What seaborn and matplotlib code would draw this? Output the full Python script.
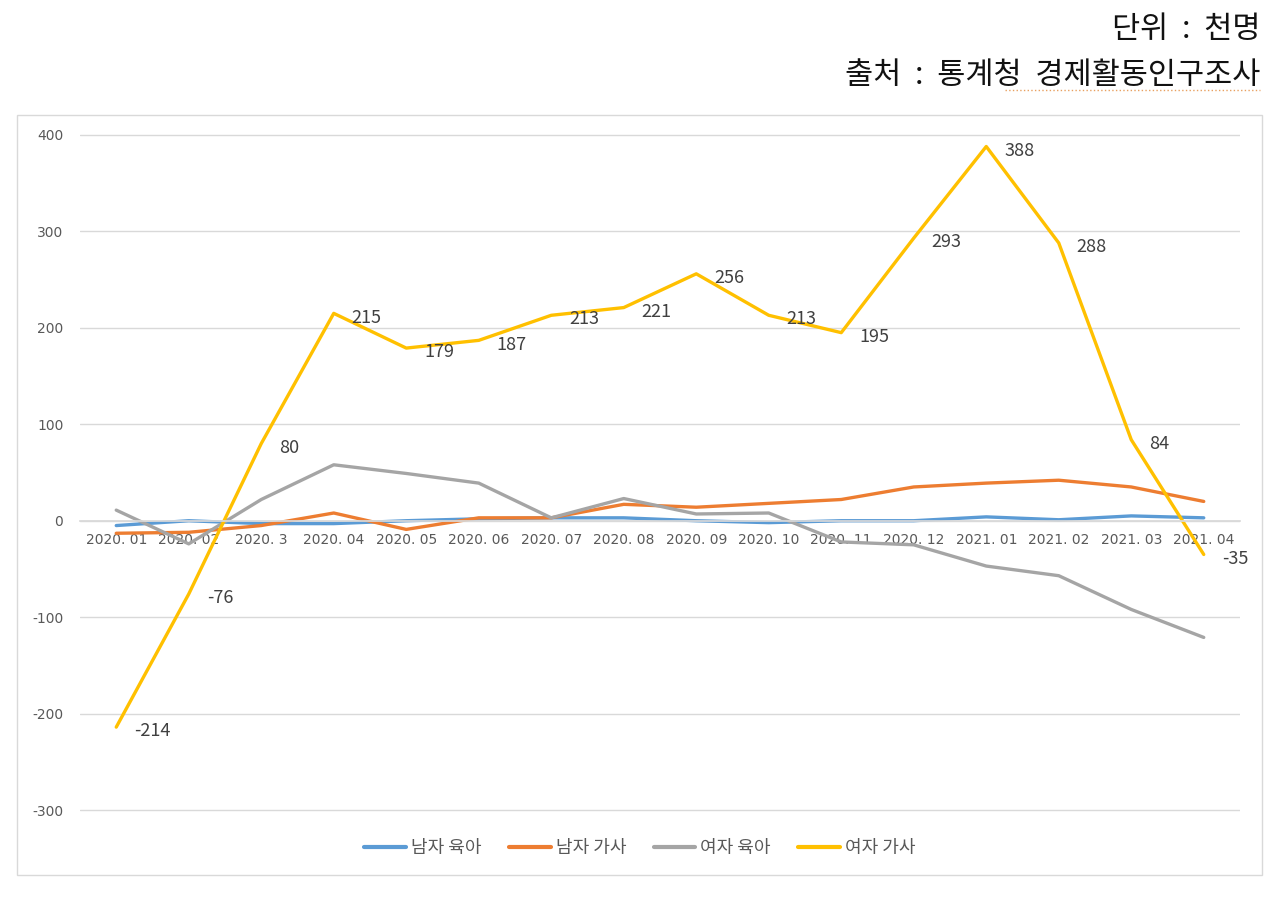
import pandas as pd
import numpy as np
import matplotlib.pyplot as plt
from matplotlib.patches import Rectangle
import seaborn as sns

# categories (months)
months = ['2020. 01', '2020. 02', '2020. 3', '2020. 04', '2020. 05', '2020. 06',
          '2020. 07', '2020. 08', '2020. 09', '2020. 10', '2020. 11', '2020. 12',
          '2021. 01', '2021. 02', '2021. 03', '2021. 04']

# series values (천명, 전년동월대비)
male_childcare = [-5, 0, -3, -3, 0, 2, 3, 3, 0, -2, 0, 0, 4, 1, 5, 3]
male_housework = [-13, -12, -5, 8, -9, 3, 3, 17, 14, 18, 22, 35, 39, 42, 35, 20]
female_childcare = [11, -24, 22, 58, 49, 39, 3, 23, 7, 8, -22, -25, -47, -57, -92, -121]
female_housework = [-214, -76, 80, 215, 179, 187, 213, 221, 256, 213, 195, 293, 388, 288, 84, -35]

series_names = ['남자 육아', '남자 가사', '여자 육아', '여자 가사']
series_colors = ['#5B9BD5', '#ED7D31', '#A5A5A5', '#FFC000']
y_ticks = [-300, -200, -100, 0, 100, 200, 300, 400]

sns.set_theme(style='white')
plt.rcParams['font.family'] = ['DejaVu Sans', 'Noto Sans CJK KR']
kr_font = ['Noto Sans CJK KR', 'DejaVu Sans']

pos = np.arange(len(months))
df = pd.DataFrame({
    'pos': np.tile(pos, 4),
    'value': male_childcare + male_housework + female_childcare + female_housework,
    'series': np.repeat(series_names, len(months)),
})

fig = plt.figure(figsize=(12.8, 9), dpi=100)
ax = fig.add_axes([80 / 1280, 1 - 812 / 900, 1160 / 1280, 679 / 900])

sns.lineplot(data=df, x='pos', y='value', hue='series', hue_order=series_names,
             palette=series_colors, linewidth=2.4, ax=ax, legend=False)

# data labels for 여자 가사
for i, v in enumerate(female_housework):
    ax.annotate(str(v), (pos[i], v), xytext=(13, -3), textcoords='offset points',
                ha='left', va='center', fontsize=13, color='#404040', family=kr_font)

ax.set_xlim(-0.5, len(months) - 0.5)
ax.set_ylim(-302, 402)
ax.set_yticks(y_ticks)
ax.set_yticklabels([str(t) for t in y_ticks], fontsize=10, color='#595959')
ax.yaxis.grid(True, color='#D9D9D9', linewidth=1)
ax.set_axisbelow(True)

# category axis crosses at zero
ax.spines['bottom'].set_position(('data', 0))
ax.spines['bottom'].set_color('#D9D9D9')
for s in ['top', 'right', 'left']:
    ax.spines[s].set_visible(False)
ax.set_xticks(pos)
ax.set_xticklabels(months, fontsize=10, color='#595959')
ax.tick_params(axis='x', length=0, pad=9)
ax.tick_params(axis='y', length=0, pad=12)
ax.set_xlabel('')
ax.set_ylabel('')

# legend
handles = [plt.Line2D([], [], color=c, linewidth=3) for c in series_colors]
fig.legend(handles, series_names, loc='center', bbox_to_anchor=(0.5, 1 - 848 / 900),
           ncol=4, frameon=False, prop={'family': kr_font, 'size': 13}, labelcolor='#595959',
           handlelength=2.3, handletextpad=0.3, columnspacing=1.5)

# chart frame
fig.patches.append(Rectangle((17 / 1280, 1 - 875 / 900), 1245 / 1280, 760 / 900,
                             transform=fig.transFigure, fill=False,
                             edgecolor='#D9D9D9', linewidth=1))

# header notes
fig.text(1260 / 1280, 1 - 30 / 900, '단위  :  천명', ha='right', va='center',
         fontsize=22, color='#111111', family=kr_font)
fig.text(1260 / 1280, 1 - 75 / 900, '출처  :  통계청  경제활동인구조사', ha='right', va='center',
         fontsize=22, color='#111111', family=kr_font)
# spell-check underline under the survey name
fig.add_artist(plt.Line2D([1005 / 1280, 1260 / 1280], [1 - 90 / 900, 1 - 90 / 900],
                          transform=fig.transFigure, color='#E8A060',
                          linewidth=1, linestyle=':'))

fig.savefig('out.png', dpi=100)
